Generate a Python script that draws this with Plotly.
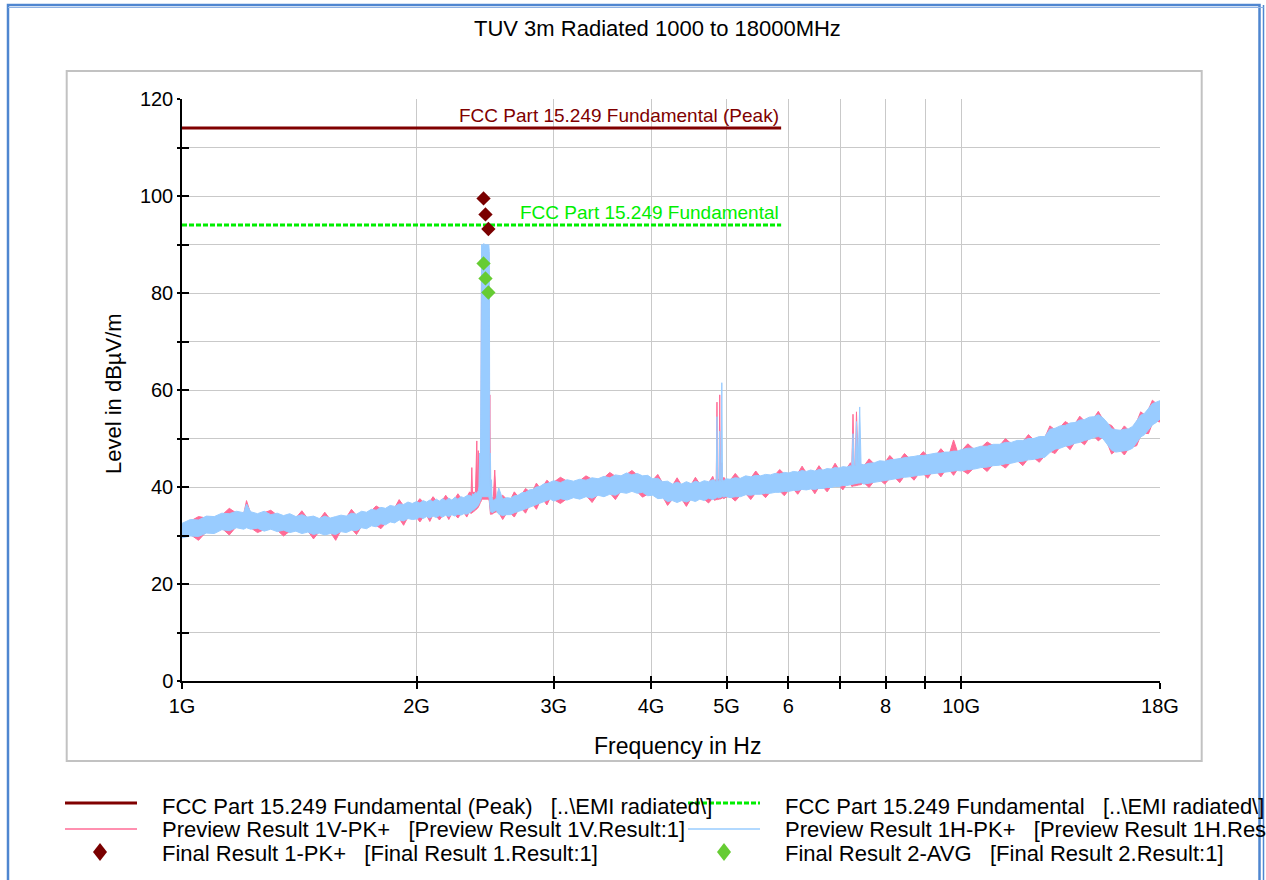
import math
import plotly.graph_objects as go

# ---------------- data (frequency in MHz, level in dBuV/m) ----------------
# The preview sweeps are so dense that they read as bands; each band is kept as the
# upper and lower edge at each frequency.

# 1.0 - 2.0 GHz
f_a = [1000, 1025, 1050, 1075, 1100, 1125, 1150, 1175, 1200, 1210, 1225, 1250, 1275, 1300,
       1325, 1350, 1375, 1400, 1425, 1450, 1475, 1500, 1525, 1550, 1575, 1600, 1625, 1650,
       1675, 1700, 1725, 1750, 1775, 1800, 1825, 1850, 1875, 1900, 1925, 1950, 1975]
h_hi_a = [32.5, 33.3, 33.2, 34.0, 33.9, 34.6, 34.5, 35.0, 34.7, 36.5, 34.9, 34.5, 35.0, 34.3,
          34.6, 34.1, 34.5, 33.9, 34.3, 33.8, 34.0, 33.5, 34.0, 33.6, 33.9, 34.2, 34.0, 34.6,
          34.4, 35.0, 34.8, 35.4, 35.2, 35.8, 35.6, 36.2, 36.0, 36.5, 36.4, 36.9, 36.6]
h_lo_a = [29.5, 29.9, 29.8, 30.5, 30.4, 31.2, 31.0, 31.6, 31.3, 31.6, 31.3, 31.5, 30.9, 31.3,
          30.8, 31.1, 30.6, 30.9, 30.4, 30.7, 30.2, 30.5, 30.1, 30.4, 30.2, 30.8, 30.6, 31.1,
          31.0, 31.6, 31.4, 32.0, 31.8, 32.4, 32.2, 32.8, 32.6, 33.2, 33.0, 33.5, 33.3]
v_hi_a = [32.0, 33.0, 33.9, 33.6, 33.5, 34.2, 35.6, 34.6, 34.4, 37.2, 34.5, 34.2, 34.7, 35.2,
          34.2, 33.8, 34.2, 33.6, 35.1, 33.5, 33.7, 33.2, 34.8, 33.3, 33.6, 33.9, 33.7, 35.4,
          34.1, 34.7, 34.5, 35.1, 36.1, 35.5, 35.3, 35.9, 35.7, 37.4, 36.1, 36.6, 36.3]
v_lo_a = [29.8, 30.2, 29.0, 30.8, 30.7, 31.5, 30.1, 31.9, 31.6, 31.9, 31.6, 30.6, 31.2, 31.6,
          31.1, 29.9, 30.9, 31.2, 30.7, 31.0, 29.3, 30.8, 30.4, 30.7, 29.0, 31.1, 30.9, 31.4,
          30.2, 31.9, 31.7, 32.3, 32.1, 31.4, 32.5, 33.1, 32.9, 33.5, 32.1, 33.8, 33.6]

# 2.0 - 2.34 GHz
f_b = [2000, 2020, 2040, 2060, 2080, 2100, 2120, 2140, 2160, 2180, 2200, 2220, 2240, 2260,
       2280, 2300, 2320, 2340]
h_hi_b = [37.0, 36.7, 37.2, 36.9, 37.3, 37.0, 37.5, 37.1, 37.6, 37.2, 37.7, 37.3, 37.9, 37.5,
          38.0, 37.8, 38.2, 38.3]
h_lo_b = [33.4, 33.8, 33.5, 33.9, 33.6, 34.0, 33.7, 34.1, 33.8, 34.2, 33.9, 34.3, 34.0, 34.4,
          34.2, 34.5, 34.4, 34.7]
v_hi_b = [36.7, 37.6, 36.9, 36.6, 37.0, 38.0, 37.2, 36.8, 37.3, 38.3, 37.4, 37.0, 37.6, 38.6,
          37.7, 37.5, 37.9, 39.0]
v_lo_b = [33.7, 32.8, 33.8, 34.2, 32.9, 34.3, 34.0, 33.2, 34.1, 34.5, 33.3, 34.6, 34.3, 33.6,
          34.5, 34.8, 33.8, 35.0]

# 2.35 - 2.53 GHz (fundamental)
f_c = [2350, 2355, 2360, 2370, 2380, 2390, 2395, 2400, 2405, 2410, 2415, 2420, 2424, 2428,
       2432, 2436, 2440, 2444, 2448, 2452, 2456, 2460, 2464, 2468, 2472, 2476, 2480, 2484,
       2488, 2492, 2496, 2500, 2510, 2520, 2530]
h_hi_c = [38.2, 38.0, 38.6, 38.4, 38.9, 38.7, 39.0, 39.2, 40.0, 47.0, 40.5, 89.5, 90.0, 90.0,
          89.8, 90.0, 90.2, 90.0, 89.8, 90.0, 90.1, 89.7, 90.0, 90.0, 89.8, 90.0, 88.5, 40.0,
          47.0, 38.0, 41.5, 37.8, 37.2, 37.4, 37.6]
h_lo_c = [34.8, 35.0, 35.2, 35.3, 35.6, 35.8, 36.0, 36.2, 36.5, 36.8, 37.0, 37.5, 38.0, 38.0,
          38.0, 38.0, 38.0, 38.0, 38.0, 38.0, 38.0, 38.0, 38.0, 38.0, 38.0, 38.0, 37.5, 35.5,
          35.0, 34.8, 34.9, 34.7, 34.9, 35.0, 35.2]
v_hi_c = [38.7, 44.0, 38.5, 39.0, 38.6, 49.5, 38.8, 47.5, 39.5, 40.0, 39.5, 45.0, 88.0, 88.5,
          89.0, 88.8, 89.0, 88.5, 88.0, 88.5, 89.0, 89.2, 89.0, 89.5, 89.0, 88.0, 45.0, 59.0,
          39.0, 38.0, 38.5, 37.5, 38.0, 43.5, 38.2]
v_lo_c = [34.5, 35.0, 34.7, 35.0, 35.2, 35.5, 35.6, 35.8, 36.0, 36.4, 36.8, 37.0, 37.5, 37.5,
          37.5, 37.5, 37.5, 37.5, 37.5, 37.5, 37.5, 37.5, 37.5, 37.5, 37.5, 37.5, 37.0, 35.0,
          34.5, 34.3, 34.5, 34.4, 34.6, 34.7, 34.9]

# 2.55 - 2.97 GHz
f_d = [2550, 2580, 2610, 2640, 2670, 2700, 2730, 2760, 2790, 2820, 2850, 2880, 2910, 2940, 2970]
h_hi_d = [39.8, 37.5, 37.8, 37.7, 38.2, 38.3, 38.8, 38.9, 39.4, 39.5, 40.0, 40.1, 40.6, 40.7, 41.0]
h_lo_d = [34.4, 34.1, 34.3, 34.3, 34.7, 34.9, 35.2, 35.5, 35.8, 36.1, 36.4, 36.7, 37.0, 37.3, 37.5]
v_hi_d = [37.4, 38.3, 37.5, 37.4, 39.0, 38.0, 38.5, 39.7, 39.1, 39.2, 40.8, 39.8, 40.3, 41.4, 40.7]
v_lo_d = [34.7, 33.3, 34.6, 34.6, 33.8, 35.2, 35.5, 34.6, 36.1, 36.4, 35.4, 37.0, 37.3, 36.3, 37.8]

# 3.0 - 4.8 GHz
f_e = [3000, 3060, 3120, 3180, 3240, 3300, 3360, 3420, 3480, 3540, 3600, 3660, 3720, 3780,
       3840, 3900, 3960, 4020, 4080, 4140, 4200, 4260, 4320, 4380, 4440, 4500, 4560, 4620,
       4680, 4740, 4800]
h_hi_e = [41.3, 40.9, 41.5, 41.2, 41.6, 41.4, 41.9, 41.7, 42.2, 41.9, 42.5, 42.3, 42.9, 42.5,
          42.8, 42.3, 42.4, 41.7, 41.8, 41.1, 41.2, 40.6, 41.0, 40.6, 41.1, 40.7, 41.2, 40.9,
          41.3, 41.1, 41.5]
h_lo_e = [37.1, 37.6, 37.3, 37.8, 37.5, 38.0, 37.7, 38.3, 38.0, 38.5, 38.3, 38.9, 38.7, 39.1,
          38.7, 38.9, 38.2, 38.3, 37.6, 37.7, 37.0, 37.2, 36.8, 37.2, 36.9, 37.3, 37.0, 37.5,
          37.2, 37.7, 37.4]
v_hi_e = [41.0, 42.0, 41.2, 40.9, 41.3, 42.3, 41.6, 41.4, 41.9, 43.0, 42.2, 42.0, 42.6, 43.4,
          42.5, 42.0, 42.1, 41.4, 42.6, 40.8, 40.9, 40.3, 41.9, 40.3, 40.8, 40.4, 42.0, 40.6,
          41.0, 40.8, 42.2]
v_lo_e = [37.4, 36.6, 37.6, 38.1, 37.8, 38.3, 36.8, 38.6, 38.3, 38.8, 37.4, 39.2, 39.0, 39.4,
          39.0, 37.9, 38.5, 38.6, 37.9, 38.0, 36.2, 37.5, 37.1, 37.5, 36.0, 37.6, 37.3, 37.8,
          37.5, 36.7, 37.7]

# 4.83 - 4.99 GHz (2nd harmonic)
f_f = [4830, 4850, 4860, 4870, 4890, 4900, 4910, 4920, 4930, 4940, 4960, 4990]
h_hi_f = [41.4, 41.0, 54.5, 41.3, 41.2, 51.5, 41.5, 41.1, 61.5, 41.6, 41.3, 41.7]
h_lo_f = [37.6, 37.8, 37.7, 37.9, 37.7, 38.0, 37.8, 38.0, 37.9, 38.1, 37.9, 38.1]
v_hi_f = [41.0, 41.7, 57.5, 40.9, 41.8, 59.0, 41.0, 41.9, 45.0, 41.2, 42.0, 41.3]
v_lo_f = [37.2, 37.5, 37.3, 37.6, 37.4, 37.6, 37.5, 37.7, 37.6, 37.8, 37.6, 37.9]

# 5.05 - 7.21 GHz
f_g = [5050, 5130, 5210, 5290, 5370, 5450, 5530, 5610, 5690, 5770, 5850, 5930, 6010, 6090,
       6170, 6250, 6330, 6410, 6490, 6570, 6650, 6730, 6810, 6890, 6970, 7050, 7130, 7210]
h_hi_g = [41.6, 41.9, 41.8, 42.3, 42.1, 42.4, 42.3, 42.6, 42.5, 42.8, 42.7, 43.0, 42.9, 43.2,
          43.1, 43.4, 43.2, 43.5, 43.3, 43.6, 43.5, 43.8, 43.7, 44.0, 43.9, 44.2, 44.1, 44.4]
h_lo_g = [37.8, 38.0, 38.0, 38.4, 38.3, 38.5, 38.5, 38.7, 38.7, 38.9, 38.9, 39.1, 39.1, 39.3,
          39.3, 39.5, 39.4, 39.6, 39.5, 39.7, 39.7, 39.9, 39.9, 40.1, 40.1, 40.3, 40.3, 40.5]
v_hi_g = [41.3, 42.8, 41.5, 42.0, 41.8, 43.3, 42.0, 42.3, 42.2, 42.5, 43.6, 42.7, 42.6, 42.9,
          42.8, 44.3, 42.9, 43.2, 43.0, 44.4, 43.2, 43.5, 43.4, 44.9, 43.6, 43.9, 43.8, 45.0]
v_lo_g = [38.1, 37.1, 38.3, 38.7, 37.4, 38.8, 38.8, 37.8, 39.0, 39.2, 39.2, 38.2, 39.4, 39.6,
          38.5, 39.8, 39.7, 39.9, 38.6, 40.0, 40.0, 39.0, 40.2, 40.4, 40.4, 39.4, 40.6, 40.8]

# 7.24 - 7.44 GHz (3rd harmonic)
f_h = [7240, 7265, 7290, 7315, 7340, 7375, 7410, 7440]
h_hi_h = [44.3, 51.0, 44.4, 44.5, 53.5, 44.6, 56.5, 44.7]
h_lo_h = [40.5, 40.6, 40.6, 40.7, 40.7, 40.8, 40.8, 40.9]
v_hi_h = [44.0, 55.0, 44.2, 44.3, 55.5, 44.5, 44.4, 44.6]
v_lo_h = [40.1, 40.2, 40.2, 40.3, 40.3, 40.4, 40.4, 40.5]

# 7.5 - 9.9 GHz
f_i = [7500, 7620, 7740, 7860, 7980, 8100, 8220, 8340, 8460, 8580, 8700, 8820, 8940, 9060,
       9180, 9300, 9420, 9540, 9660, 9780, 9900]
h_hi_i = [44.6, 44.9, 45.0, 45.4, 45.3, 45.6, 45.7, 45.9, 46.0, 46.2, 46.3, 46.5, 46.5, 46.7,
          46.8, 47.0, 47.0, 47.2, 47.2, 47.4, 47.4]
h_lo_i = [40.6, 40.8, 41.0, 41.2, 41.4, 41.5, 41.7, 41.8, 42.0, 42.1, 42.3, 42.4, 42.5, 42.6,
          42.8, 42.9, 43.0, 43.1, 43.2, 43.3, 43.4]
v_hi_i = [44.3, 45.8, 44.7, 45.1, 45.0, 46.5, 45.4, 45.6, 46.9, 45.9, 46.0, 46.2, 47.3, 46.4,
          46.5, 46.7, 47.9, 46.9, 46.9, 49.7, 47.1]
v_lo_i = [40.9, 39.9, 41.3, 41.5, 40.6, 41.8, 42.0, 40.9, 42.3, 42.4, 41.4, 42.7, 42.8, 41.8,
          43.1, 43.2, 42.1, 43.4, 43.5, 42.4, 43.7]

# 10 - 18 GHz
f_j = [10000, 10200, 10400, 10600, 10800, 11000, 11200, 11400, 11600, 11800, 12000, 12200,
       12400, 12600, 12800, 13000, 13200, 13400, 13600, 13800, 14000, 14200, 14400, 14600,
       14800, 15000, 15200, 15400, 15600, 15800, 16000, 16200, 16400, 16600, 16800, 17000,
       17200, 17400, 17600, 17800, 18000]
h_hi_j = [47.7, 48.0, 48.0, 48.4, 48.4, 48.8, 48.8, 49.2, 49.2, 49.6, 49.6, 50.0, 50.0, 50.4,
          50.4, 51.9, 52.1, 52.6, 52.7, 53.2, 53.3, 53.8, 53.9, 54.4, 54.5, 54.9, 54.3, 53.3,
          52.0, 51.8, 51.7, 51.9, 52.0, 52.5, 53.7, 54.8, 55.2, 56.3, 57.2, 57.5, 57.8]
h_lo_j = [43.3, 43.6, 43.7, 44.0, 44.1, 44.4, 44.5, 44.8, 44.9, 45.2, 45.3, 45.6, 45.7, 46.0,
          46.1, 47.1, 47.8, 48.0, 48.4, 48.6, 49.0, 49.2, 49.6, 49.8, 50.2, 50.4, 50.0, 48.8,
          47.6, 47.2, 47.3, 47.4, 47.6, 48.0, 49.3, 50.3, 50.8, 51.8, 52.8, 53.3, 54.0]
v_hi_j = [47.4, 48.9, 47.7, 48.1, 49.3, 48.5, 48.5, 50.0, 48.9, 49.3, 49.3, 50.8, 49.7, 50.1,
          50.1, 52.6, 51.8, 52.3, 53.5, 52.9, 53.0, 54.6, 53.6, 54.1, 54.2, 55.6, 54.0, 53.0,
          52.7, 51.5, 51.4, 52.6, 51.7, 52.2, 53.4, 55.5, 54.9, 56.0, 57.9, 57.2, 57.6]
v_lo_j = [43.6, 42.7, 44.0, 44.3, 43.2, 44.7, 44.8, 43.9, 45.2, 45.5, 44.4, 45.9, 46.0, 45.1,
          46.4, 47.4, 46.9, 48.3, 48.7, 47.7, 49.3, 49.5, 48.7, 50.1, 50.5, 49.5, 50.3, 49.1,
          46.8, 47.5, 47.6, 46.6, 47.9, 48.3, 48.5, 50.6, 51.1, 51.0, 53.1, 53.6, 53.4]

# Limit lines
limit_freq_mhz = [1000, 5875]
limit_peak = [114, 114]
limit_fund = [94, 94]

# Final results
final_freq_mhz = [2438, 2452, 2473]
final_pk = [99.5, 96.2, 93.2]
final_avg = [86.1, 83.0, 80.1]

# Axis ticks
x_tickvals_ghz = [1, 2, 3, 4, 5, 6, 7, 8, 9, 10, 18]
x_ticktext = ["1G", "2G", "3G", "4G", "5G", "6", "", "8", "", "10G", "18G"]
y_tickvals = [0, 10, 20, 30, 40, 50, 60, 70, 80, 90, 100, 110, 120]
y_ticktext = ["0", "", "20", "", "40", "", "60", "", "80", "", "100", "", "120"]

# ---------------- assemble ----------------
bands = [
    (f_a, h_hi_a, h_lo_a, v_hi_a, v_lo_a), (f_b, h_hi_b, h_lo_b, v_hi_b, v_lo_b),
    (f_c, h_hi_c, h_lo_c, v_hi_c, v_lo_c), (f_d, h_hi_d, h_lo_d, v_hi_d, v_lo_d),
    (f_e, h_hi_e, h_lo_e, v_hi_e, v_lo_e), (f_f, h_hi_f, h_lo_f, v_hi_f, v_lo_f),
    (f_g, h_hi_g, h_lo_g, v_hi_g, v_lo_g), (f_h, h_hi_h, h_lo_h, v_hi_h, v_lo_h),
    (f_i, h_hi_i, h_lo_i, v_hi_i, v_lo_i), (f_j, h_hi_j, h_lo_j, v_hi_j, v_lo_j),
]
freq_mhz, h_hi, h_lo, v_hi, v_lo = [], [], [], [], []
for k, (f, a, b, c, d) in enumerate(bands):
    assert len(f) == len(a) == len(b) == len(c) == len(d), (k, len(f), len(a), len(b), len(c), len(d))
    freq_mhz += f
    h_hi += a
    h_lo += b
    v_hi += c
    v_lo += d
freq_ghz = [f / 1000 for f in freq_mhz]
limit_ghz = [f / 1000 for f in limit_freq_mhz]
final_ghz = [f / 1000 for f in final_freq_mhz]

FONT = "Liberation Sans, Arial, Helvetica, sans-serif"
W, H = 1266, 880
PL, PT, PW, PH = 182, 99, 978, 582   # plot area in page pixels


def xp(px):
    return (px - PL) / PW


def yp(py):
    return (PT + PH - py) / PH


C_PEAK = "#800000"
C_FUND = "#00ee00"
C_1V = "#ff6b96"
C_1H = "#99ccff"
C_PK = "#7a0000"
C_AVG = "#66cc33"

fig = go.Figure()
fig.add_trace(go.Scatter(x=freq_ghz, y=v_lo, mode="lines", line=dict(color=C_1V, width=1),
                         showlegend=False, hoverinfo="skip"))
fig.add_trace(go.Scatter(x=freq_ghz, y=v_hi, mode="lines", line=dict(color=C_1V, width=1),
                         fill="tonexty", fillcolor=C_1V, name="Preview Result 1V-PK+",
                         showlegend=False, hoverinfo="skip"))
fig.add_trace(go.Scatter(x=freq_ghz, y=h_lo, mode="lines", line=dict(color=C_1H, width=1),
                         showlegend=False, hoverinfo="skip"))
fig.add_trace(go.Scatter(x=freq_ghz, y=h_hi, mode="lines", line=dict(color=C_1H, width=1),
                         fill="tonexty", fillcolor=C_1H, name="Preview Result 1H-PK+",
                         showlegend=False, hoverinfo="skip"))
fig.add_trace(go.Scatter(x=limit_ghz, y=limit_peak, mode="lines",
                         name="FCC Part 15.249 Fundamental (Peak)",
                         line=dict(color=C_PEAK, width=3), showlegend=False))
fig.add_trace(go.Scatter(x=limit_ghz, y=limit_fund, mode="lines",
                         name="FCC Part 15.249 Fundamental",
                         line=dict(color=C_FUND, width=3, dash="5px,2px"), showlegend=False))
fig.add_trace(go.Scatter(x=final_ghz, y=final_pk, mode="markers", name="Final Result 1-PK+",
                         marker=dict(symbol="diamond", size=11, color=C_PK), showlegend=False))
fig.add_trace(go.Scatter(x=final_ghz, y=final_avg, mode="markers", name="Final Result 2-AVG",
                         marker=dict(symbol="diamond", size=11, color=C_AVG), showlegend=False))
# carrier for the inner half of the crossing tick marks
fig.add_trace(go.Scatter(x=[], y=[], xaxis="x2", yaxis="y2", showlegend=False))

xr = [0, math.log10(18)]
fig.update_layout(
    width=W, height=H, autosize=False,
    margin=dict(l=PL, r=W - PL - PW, t=PT, b=H - PT - PH),
    paper_bgcolor="white", plot_bgcolor="white",
    font=dict(family=FONT, color="black"),
    showlegend=False,
    xaxis=dict(type="log", range=xr, tickvals=x_tickvals_ghz, ticktext=x_ticktext,
               ticks="outside", ticklen=6, tickwidth=1.5, tickcolor="black",
               showline=True, linecolor="black", linewidth=1.5,
               showgrid=True, gridcolor="#c9c9c9", gridwidth=1.2,
               zeroline=False, tickfont=dict(size=20, family=FONT)),
    yaxis=dict(range=[0, 120], tickvals=y_tickvals, ticktext=y_ticktext,
               ticks="outside", ticklen=3, tickwidth=1.5, tickcolor="black",
               showline=True, linecolor="black", linewidth=1.5,
               showgrid=True, gridcolor="#c9c9c9", gridwidth=1.2,
               zeroline=False, tickfont=dict(size=20, family=FONT)),
    xaxis2=dict(type="log", range=xr, overlaying="x", anchor="y", side="bottom",
                tickvals=x_tickvals_ghz, ticks="inside", ticklen=5, tickwidth=1.5,
                tickcolor="black", showticklabels=False, showgrid=False, showline=False,
                zeroline=False),
    yaxis2=dict(range=[0, 120], overlaying="y", anchor="x", side="left",
                tickvals=y_tickvals, ticks="inside", ticklen=7, tickwidth=1.5,
                tickcolor="black", showticklabels=False, showgrid=False, showline=False,
                zeroline=False),
)

ann = []
ann.append(dict(text="TUV 3m Radiated 1000 to 18000MHz", xref="paper", yref="paper",
                x=xp(657), y=yp(28), xanchor="center", yanchor="middle", showarrow=False,
                font=dict(size=22, family=FONT, color="black")))
ann.append(dict(text="Frequency in Hz", xref="paper", yref="paper",
                x=xp(677), y=yp(746), xanchor="center", yanchor="middle", showarrow=False,
                font=dict(size=23, family=FONT, color="black")))
ann.append(dict(text="Level in dBµV/m", xref="paper", yref="paper", textangle=-90,
                x=xp(113), y=yp(394), xanchor="center", yanchor="middle", showarrow=False,
                font=dict(size=22, family=FONT, color="black")))
ann.append(dict(text="FCC Part 15.249 Fundamental (Peak)", xref="x", yref="y",
                x=math.log10(limit_ghz[-1]), y=limit_peak[-1], xanchor="right", yanchor="bottom",
                showarrow=False, font=dict(size=19, family=FONT, color=C_PEAK)))
ann.append(dict(text="FCC Part 15.249 Fundamental", xref="x", yref="y",
                x=math.log10(limit_ghz[-1]), y=limit_fund[-1], xanchor="right", yanchor="bottom",
                showarrow=False, font=dict(size=19, family=FONT, color=C_FUND)))

sp = "\u00a0\u00a0\u00a0"
legend_rows = [
    ("FCC Part 15.249 Fundamental (Peak)" + sp + "[..\\EMI radiated\\]",
     "FCC Part 15.249 Fundamental" + sp + "[..\\EMI radiated\\]"),
    ("Preview Result 1V-PK+" + sp + "[Preview Result 1V.Result:1]",
     "Preview Result 1H-PK+" + sp + "[Preview Result 1H.Res"),
    ("Final Result 1-PK+" + sp + "[Final Result 1.Result:1]",
     "Final Result 2-AVG" + sp + "[Final Result 2.Result:1]"),
]
row_y = [806, 829, 853]
col_text_x = [160, 783]
for r, (t1, t2) in enumerate(legend_rows):
    for c, t in enumerate((t1, t2)):
        ann.append(dict(text=t, xref="paper", yref="paper", x=xp(col_text_x[c]), y=yp(row_y[r]),
                        xanchor="left", yanchor="middle", showarrow=False,
                        font=dict(size=22, family=FONT, color="black")))

shapes = []
shapes.append(dict(type="rect", xref="paper", yref="paper", x0=xp(8), x1=xp(1259.5),
                   y0=yp(5), y1=yp(910), line=dict(color="#4f86d0", width=2.5)))
shapes.append(dict(type="line", xref="paper", yref="paper", x0=xp(1263.5), x1=xp(1263.5),
                   y0=yp(5), y1=yp(910), line=dict(color="#4f86d0", width=1.5)))
shapes.append(dict(type="line", xref="paper", yref="paper", x0=xp(8), x1=xp(1263.5),
                   y0=yp(7.5), y1=yp(7.5), line=dict(color="#8fb2e3", width=1)))
shapes.append(dict(type="rect", xref="paper", yref="paper", x0=xp(66.7), x1=xp(1201.7),
                   y0=yp(71), y1=yp(761), line=dict(color="#c2c2c2", width=2)))
shapes.append(dict(type="line", xref="paper", yref="paper", x0=xp(65), x1=xp(137),
                   y0=yp(803), y1=yp(803), line=dict(color=C_PEAK, width=3)))
shapes.append(dict(type="line", xref="paper", yref="paper", x0=xp(688), x1=xp(760),
                   y0=yp(803), y1=yp(803), line=dict(color=C_FUND, width=3, dash="5px,2px")))
shapes.append(dict(type="line", xref="paper", yref="paper", x0=xp(65), x1=xp(137),
                   y0=yp(829), y1=yp(829), line=dict(color=C_1V, width=1.5)))
shapes.append(dict(type="line", xref="paper", yref="paper", x0=xp(688), x1=xp(760),
                   y0=yp(829), y1=yp(829), line=dict(color=C_1H, width=1.5)))
for cx, col in ((100, C_PK), (724, C_AVG)):
    cy = 852
    path = "M {} {} L {} {} L {} {} L {} {} Z".format(
        xp(cx), yp(cy - 9), xp(cx + 7), yp(cy), xp(cx), yp(cy + 9), xp(cx - 7), yp(cy))
    shapes.append(dict(type="path", xref="paper", yref="paper", path=path,
                       fillcolor=col, line=dict(color=col, width=0)))

fig.update_layout(annotations=ann, shapes=shapes)
# place the 1266x880 figure at the page origin (no default body margin / scrollbars)
fig.write_html("out.html",
               config={"displayModeBar": False},
               post_script="document.body.style.margin='0px';"
                           "document.documentElement.style.overflow='hidden';"
                           "document.body.style.overflow='hidden';")
